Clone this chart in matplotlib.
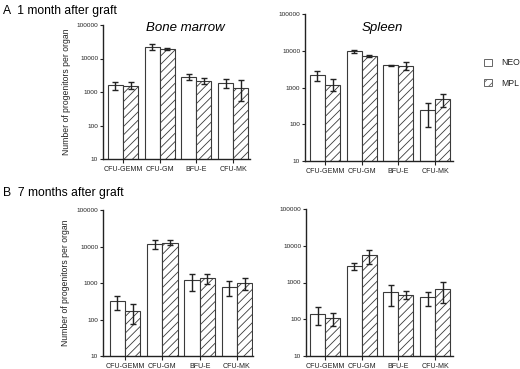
"""plot.py

Progenitor counts per organ, NEO vs MPL, 1 and 7 months after graft.
"""
import numpy as np
import matplotlib
matplotlib.use("Agg")
import matplotlib.pyplot as plt
from matplotlib.patches import Patch

plt.rcParams["font.family"] = ["Liberation Sans", "DejaVu Sans"]
plt.rcParams["hatch.color"] = "#909090"
plt.rcParams["hatch.linewidth"] = 0.6

# ------------------------------------------------------------------ #
# Data
# ------------------------------------------------------------------ #

categories = ["CFU-GEMM", "CFU-GM", "BFU-E", "CFU-MK"]
y_ticks = [10, 100, 1000, 10000, 100000]

# A - bone marrow, 1 month
bm_1m_neo = [1580, 22400, 2800, 1860]
bm_1m_neo_lo = [1120, 17800, 2340, 1350]
bm_1m_neo_hi = [2000, 26300, 3400, 2400]
bm_1m_mpl = [1550, 19000, 2140, 1350]
bm_1m_mpl_lo = [1200, 17800, 1780, 540]
bm_1m_mpl_hi = [2000, 20400, 2630, 2240]

# A - spleen, 1 month
sp_1m_neo = [2140, 9900, 4000, 245]
sp_1m_neo_lo = [1550, 8700, 3850, 86]
sp_1m_neo_hi = [2750, 10800, 4150, 380]
sp_1m_mpl = [1200, 7200, 3800, 480]
sp_1m_mpl_lo = [795, 6800, 3030, 300]
sp_1m_mpl_hi = [1660, 7700, 4800, 675]

# B - bone marrow, 7 months
bm_7m_neo = [315, 11700, 1210, 770]
bm_7m_neo_lo = [187, 8800, 590, 450]
bm_7m_neo_hi = [450, 15000, 1750, 1100]
bm_7m_mpl = [168, 12800, 1380, 1000]
bm_7m_mpl_lo = [73, 11000, 940, 660]
bm_7m_mpl_hi = [265, 15000, 1750, 1360]

# B - spleen, 7 months
sp_7m_neo = [142, 2760, 560, 405]
sp_7m_neo_lo = [71, 2150, 235, 235]
sp_7m_neo_hi = [210, 3400, 870, 560]
sp_7m_mpl = [108, 5600, 455, 650]
sp_7m_mpl_lo = [64, 3250, 350, 285]
sp_7m_mpl_hi = [148, 7800, 590, 1030]

EDGE = "#3a3a3a"
INK = "#222222"
BAR_W = 0.41

# ------------------------------------------------------------------ #
# Drawing
# ------------------------------------------------------------------ #

def draw_bars(ax, x, vals, lo, hi, hatch=None):
    vals = np.asarray(vals, dtype=float)
    err = np.vstack([vals - np.asarray(lo), np.asarray(hi) - vals])
    ax.bar(x, vals, width=BAR_W, bottom=0, color="white", edgecolor=EDGE,
           linewidth=0.8, hatch=hatch, zorder=2)
    ax.errorbar(x, vals, yerr=err, fmt="none", ecolor=INK, elinewidth=1.0,
                capsize=2.4, capthick=1.0, zorder=3)


def setup_panel(ax, xlim, ylabel=False):
    ax.set_yscale("log")
    ax.set_ylim(10, 100000)
    ax.set_xlim(*xlim)
    ax.set_yticks(y_ticks)
    ax.set_yticklabels([str(t) for t in y_ticks])
    ax.yaxis.set_minor_locator(plt.NullLocator())
    ax.set_xticks(np.arange(len(categories)))
    ax.set_xticklabels(categories)
    for side in ("top", "right"):
        ax.spines[side].set_visible(False)
    for side in ("left", "bottom"):
        ax.spines[side].set_linewidth(1.0)
        ax.spines[side].set_color(INK)
    ax.tick_params(axis="y", labelsize=4.6, length=2.5, width=0.8,
                   pad=1, colors=INK)
    ax.tick_params(axis="x", labelsize=5.1, length=3, width=0.8,
                   pad=2, colors=INK)
    if ylabel:
        ax.set_ylabel("Number of progenitors per organ", fontsize=6.2,
                      color=INK)
        ax.yaxis.set_label_coords(-0.22, 0.5)


def draw_panel(ax, neo, neo_lo, neo_hi, mpl, mpl_lo, mpl_hi, xlim, ylabel):
    x = np.arange(len(categories))
    draw_bars(ax, x - BAR_W / 2, neo, neo_lo, neo_hi)
    draw_bars(ax, x + BAR_W / 2, mpl, mpl_lo, mpl_hi, hatch="////")
    setup_panel(ax, xlim, ylabel)


W, H = 520, 369
fig = plt.figure(figsize=(W / 100, H / 100), dpi=100)


def px_axes(left, top, right, bottom):
    return fig.add_axes([left / W, 1 - bottom / H, (right - left) / W,
                         (bottom - top) / H])


ax_tl = px_axes(103, 25, 250, 159)
ax_tr = px_axes(305, 14, 453, 161)
ax_bl = px_axes(103, 210, 253, 356)
ax_br = px_axes(306, 209, 453, 356)

draw_panel(ax_tl, bm_1m_neo, bm_1m_neo_lo, bm_1m_neo_hi,
           bm_1m_mpl, bm_1m_mpl_lo, bm_1m_mpl_hi, (-0.545, 3.46), True)
draw_panel(ax_tr, sp_1m_neo, sp_1m_neo_lo, sp_1m_neo_hi,
           sp_1m_mpl, sp_1m_mpl_lo, sp_1m_mpl_hi, (-0.545, 3.49), False)
draw_panel(ax_bl, bm_7m_neo, bm_7m_neo_lo, bm_7m_neo_hi,
           bm_7m_mpl, bm_7m_mpl_lo, bm_7m_mpl_hi, (-0.59, 3.43), True)
draw_panel(ax_br, sp_7m_neo, sp_7m_neo_lo, sp_7m_neo_hi,
           sp_7m_mpl, sp_7m_mpl_lo, sp_7m_mpl_hi, (-0.52, 3.49), False)

# ------------------------------------------------------------------ #
# Titles, panel labels, legend
# ------------------------------------------------------------------ #

fig.text(185 / W, 1 - 28 / H, "Bone marrow", style="italic", fontsize=9.5,
         ha="center", va="center", color="black")
fig.text(382 / W, 1 - 28 / H, "Spleen", style="italic", fontsize=9.5,
         ha="center", va="center", color="black")
fig.text(3 / W, 1 - 11 / H, "A  1 month after graft", fontsize=8.7,
         ha="left", va="center", color="black")
fig.text(3 / W, 1 - 193 / H, "B  7 months after graft", fontsize=8.7,
         ha="left", va="center", color="black")

handles = [
    Patch(facecolor="white", edgecolor="#666666", linewidth=0.7, label="NEO"),
    Patch(facecolor="white", edgecolor="#666666", linewidth=0.7,
          hatch="////", label="MPL"),
]
fig.legend(handles=handles, loc="center left",
           bbox_to_anchor=(476 / W, 1 - 73 / H), frameon=False, fontsize=6.2,
           handlelength=1.0, handleheight=0.9, handletextpad=1.0,
           labelspacing=1.3, labelcolor=INK)

fig.savefig("out.png", dpi=100)
